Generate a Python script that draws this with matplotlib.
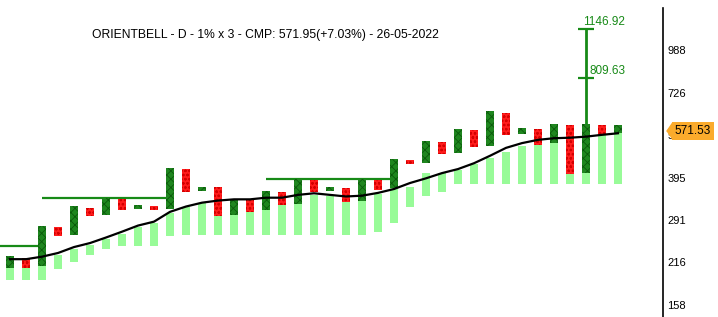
import numpy as np
import matplotlib.pyplot as plt
from matplotlib.ticker import NullLocator
from matplotlib.transforms import offset_copy

plt.rcParams['font.family'] = ['Liberation Sans', 'DejaVu Sans']
plt.rcParams['hatch.linewidth'] = 0.6

title = 'ORIENTBELL - D - 1% x 3 - CMP: 571.95(+7.03%) - 26-05-2022'

# point & figure columns (X = rising, O = falling), box top and bottom
col_type = ['X', 'O', 'X', 'O', 'X', 'O', 'X', 'O', 'X', 'O',
            'X', 'O', 'X', 'O', 'X', 'O', 'X', 'O', 'X', 'O',
            'X', 'O', 'X', 'O', 'X', 'O', 'X', 'O', 'X', 'O',
            'X', 'O', 'X', 'O', 'X', 'O', 'X', 'O', 'X']
col_high = [225, 222, 280, 277, 322, 318, 341, 338, 325, 322,
            423, 420, 370, 368, 340, 337, 360, 357, 392, 389,
            370, 367, 392, 389, 452, 449, 515, 509, 559, 554,
            638, 630, 563, 559, 582, 575, 582, 575, 575]
col_low = [207, 207, 209, 260, 262, 299, 302, 312, 315, 312,
           315, 355, 359, 299, 302, 309, 312, 325, 328, 355,
           359, 331, 334, 362, 366, 435, 440, 467, 471, 491,
           494, 536, 541, 500, 506, 406, 408, 537, 543]

# light green band behind each column
band_high = [207, 207, 209, 227, 236, 244, 254, 264, 277, 286,
             307, 321, 329, 299, 302, 309, 312, 325, 328, 349,
             346, 331, 334, 350, 366, 370, 408, 408, 418, 436,
             454, 476, 494, 500, 506, 406, 408, 537, 543]
band_low = [190, 190, 190, 205, 215, 227, 237, 242, 242, 242,
            259, 262, 262, 262, 262, 262, 262, 262, 262, 262,
            262, 262, 262, 268, 286, 321, 347, 355, 376, 376,
            378, 378, 378, 378, 378, 378, 378, 378, 378]

# moving average of the columns
ma = [220, 220, 224, 230, 240, 247, 257, 268, 280, 288,
      309, 321, 330, 335, 338, 338, 342, 342, 349, 353,
      349, 345, 347, 354, 364, 380, 393, 408, 420, 438,
      462, 489, 506, 518, 524, 526, 530, 537, 543]

# breakout lines: start column, end column, level
res_start = [-1, 2, 16]
res_end = [2, 10, 24]
res_level = [242.4, 340.8, 392.2]

target_col = 36
targets = [809.63, 1146.92]
last_price = 571.53

yticks = [158, 216, 291, 395, 536, 726, 988]

fig = plt.figure(figsize=(7.18, 3.17), dpi=100)
ax = fig.add_axes([0, 0, 663 / 718, 309 / 317])
ax.set_yscale('log')

x = np.arange(len(col_type))
band_high = np.array(band_high, dtype=float)
band_low = np.array(band_low, dtype=float)
ax.bar(x, band_high - band_low, bottom=band_low, width=0.46,
       color='#98fb98', linewidth=0, zorder=1)

for i, t in enumerate(col_type):
    if t == 'X':
        fc, hc, h = '#1f861f', '#0b5a0b', 'xxxx'
    else:
        fc, hc, h = '#ff1c1c', '#d40000', 'oooo'
    ax.bar(i, col_high[i] - col_low[i], bottom=col_low[i], width=0.55,
           color=fc, edgecolor=hc, hatch=h, linewidth=0, zorder=3)

ax.plot(x, ma, color='black', lw=1.6, zorder=4)

ax.hlines(res_level, res_start, res_end, color='#178a17', lw=1.6, zorder=2)

ax.vlines(target_col, col_high[target_col], max(targets), color='#178a17',
          lw=2, zorder=2)
ax.hlines(targets, target_col - 0.5, target_col + 0.5, color='#178a17',
          lw=1.6, zorder=2)
ax.annotate(f'{targets[1]:.2f}', (target_col, targets[1]), xytext=(-3, 7),
            textcoords='offset pixels', ha='left', va='center',
            fontsize=8.5, color='#178a17')
ax.annotate(f'{targets[0]:.2f}', (target_col, targets[0]), xytext=(4, 7),
            textcoords='offset pixels', ha='left', va='center',
            fontsize=8.5, color='#178a17')

# price tag on the axis
tag_tr = offset_copy(ax.get_yaxis_transform(), fig=fig, x=9, y=-4.5, units='dots')
ax.plot([1], [last_price], marker=[(-0.7, 0), (0, 1), (0, -1)], ms=12,
        color='#fbab2c', transform=tag_tr, clip_on=False, zorder=6)
ax.annotate(f'{last_price:.2f}', (1, last_price), xycoords=('axes fraction', 'data'),
            xytext=(11.6, -4.5), textcoords='offset pixels', ha='left', va='center',
            fontsize=8.5, color='black', annotation_clip=False, zorder=7,
            bbox=dict(boxstyle='square,pad=0.25', fc='#fbab2c', ec='none'))

ax.set_xlim(-0.625, 40.8125)
ax.set_ylim(145.3, 1334)
ax.set_xticks([])
ax.yaxis.tick_right()
ax.set_yticks(yticks)
ax.set_yticklabels([str(v) for v in yticks])
ax.yaxis.set_minor_locator(NullLocator())
ax.tick_params(axis='y', length=0, pad=3, labelsize=8)
for s in ['top', 'left', 'bottom']:
    ax.spines[s].set_visible(False)
ax.spines['right'].set_linewidth(1.2)

fig.text(265 / 718, 1 - 35 / 317, title, ha='center', va='center', fontsize=8.7)

fig.savefig('out.png', dpi=100)
